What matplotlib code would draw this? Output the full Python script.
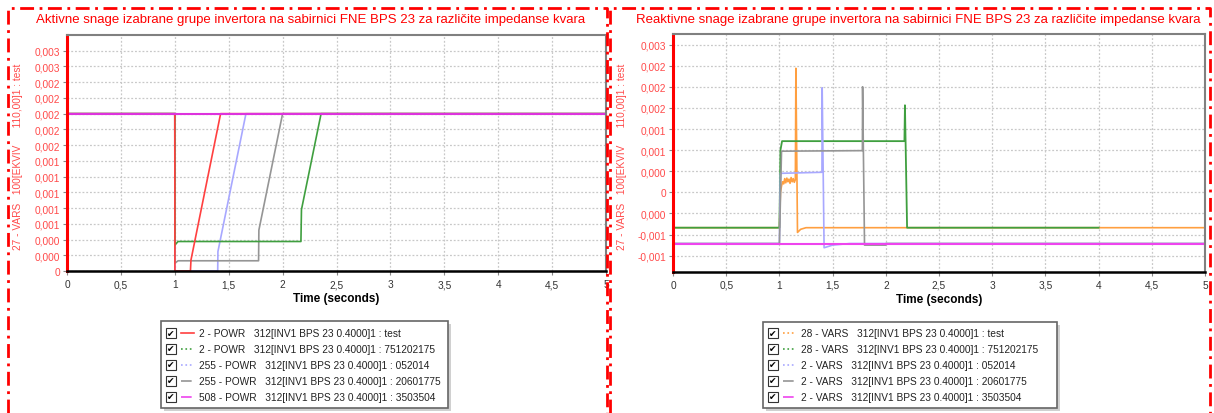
import matplotlib
matplotlib.use("Agg")
import matplotlib.pyplot as plt
from matplotlib.patches import Rectangle
from matplotlib.lines import Line2D

plt.rcParams['font.family'] = ['Liberation Sans', 'DejaVu Sans']

# ---- data: active power (POWR) ----
t_p_test = [0, 1.0, 1.001, 1.145, 1.15, 1.425, 5]
p_test = [0.002, 0.002, 0.0, 0.0, 0.00014, 0.002, 0.002]
t_p_751 = [0, 1.0, 1.001, 1.03, 2.17, 2.175, 2.357, 5]
p_751 = [0.002, 0.002, 0.00033, 0.000375, 0.000375, 0.00078, 0.002, 0.002]
t_p_052 = [0, 1.0, 1.001, 1.398, 1.40, 1.66, 5]
p_052 = [0.002, 0.002, 0.0, 0.0, 0.000247, 0.002, 0.002]
t_p_206 = [0, 1.0, 1.001, 1.03, 1.777, 1.78, 2.0, 5]
p_206 = [0.002, 0.002, 0.0001, 0.00013, 0.00013, 0.00052, 0.002, 0.002]
t_p_350 = [0, 5]
p_350 = [0.002, 0.002]

# ---- data: reactive power (VARS) ----
t_q_test = [0, 1.0, 1.01, 1.02, 1.03, 1.04, 1.05, 1.06, 1.07, 1.08, 1.09, 1.10,
            1.11, 1.12, 1.13, 1.14, 1.15, 1.155, 1.17, 1.2, 1.25, 5]
q_test = [-0.00067, -0.00067, 0.0, 0.00012, 0.0002, 0.00016, 0.00026, 0.00018,
          0.00027, 0.0002, 0.00025, 0.00017, 0.00028, 0.0002, 0.00026, 0.00019,
          0.00024, 0.00235, -0.00076, -0.0007, -0.00067, -0.00067]
t_q_751 = [0, 1.0, 1.01, 1.025, 2.175, 2.18, 2.2, 4.0]
q_751 = [-0.00067, -0.00067, 0.0008, 0.00097, 0.00097, 0.00165, -0.00067, -0.00067]
t_q_052 = [0, 1.0, 1.01, 1.40, 1.402, 1.42, 1.5, 1.66, 5]
q_052 = [-0.00097, -0.00097, 0.00036, 0.00038, 0.00198, -0.00105, -0.001, -0.00097, -0.00097]
t_q_206 = [0, 1.0, 1.02, 1.78, 1.782, 1.80, 2.0, 2.001, 5]
q_206 = [-0.00097, -0.00097, 0.00078, 0.00079, 0.002, -0.001, -0.001, -0.00097, -0.00097]
t_q_350 = [0, 5]
q_350 = [-0.00097, -0.00097]

# ---- ticks / labels ----
x_ticks = [0, 0.5, 1, 1.5, 2, 2.5, 3, 3.5, 4, 4.5, 5]
x_tick_labels = ["0", "0,5", "1", "1,5", "2", "2,5", "3", "3,5", "4", "4,5", "5"]
p_ticks = [0, 0.0002, 0.0004, 0.0006, 0.0008, 0.001, 0.0012, 0.0014,
           0.0016, 0.0018, 0.002, 0.0022, 0.0024, 0.0026, 0.0028]
p_tick_labels = ["0", "0,000", "0,000", "0,001", "0,001", "0,001", "0,001", "0,001",
                 "0,002", "0,002", "0,002", "0,002", "0,002", "0,003", "0,003"]
q_ticks = [-0.0012, -0.0008, -0.0004, 0, 0.0004, 0.0008, 0.0012, 0.0016,
           0.002, 0.0024, 0.0028]
q_tick_labels = ["-0,001", "-0,001", "0,000", "0", "0,000", "0,001", "0,001",
                 "0,002", "0,002", "0,002", "0,003"]

title_p = "Aktivne snage izabrane grupe invertora na sabirnici FNE BPS 23 za različite impedanse kvara"
title_q = "Reaktivne snage izabrane grupe invertora na sabirnici FNE BPS 23 za različite impedanse kvara"
y_label = "27 - VARS   100[EKVIV      110,00]1 : test"

labels_p = ["2 - POWR   312[INV1 BPS 23 0.4000]1 : test",
            "2 - POWR   312[INV1 BPS 23 0.4000]1 : 751202175",
            "255 - POWR   312[INV1 BPS 23 0.4000]1 : 052014",
            "255 - POWR   312[INV1 BPS 23 0.4000]1 : 20601775",
            "508 - POWR   312[INV1 BPS 23 0.4000]1 : 3503504"]
labels_q = ["28 - VARS   312[INV1 BPS 23 0.4000]1 : test",
            "28 - VARS   312[INV1 BPS 23 0.4000]1 : 751202175",
            "2 - VARS   312[INV1 BPS 23 0.4000]1 : 052014",
            "2 - VARS   312[INV1 BPS 23 0.4000]1 : 20601775",
            "2 - VARS   312[INV1 BPS 23 0.4000]1 : 3503504"]

W, H = 1214, 414


def fx(x):
    return x / W


def fy(y):
    return 1 - y / H


fig = plt.figure(figsize=(W / 100, H / 100), dpi=100)

ax1 = fig.add_axes([fx(67), fy(272), fx(606) - fx(67), fy(36) - fy(272)])
ax2 = fig.add_axes([fx(673), fy(272.5), fx(1205) - fx(673), fy(35) - fy(272.5)])


def style_axes(ax, yticks, ylabels, ylim):
    ax.set_xlim(0, 5)
    ax.set_ylim(*ylim)
    ax.set_xticks(x_ticks)
    ax.set_xticklabels(x_tick_labels)
    ax.set_yticks(yticks)
    ax.set_yticklabels(ylabels)
    ax.tick_params(axis='y', labelsize=7.3, labelcolor='#ff4a4a', length=3, color='#888888', pad=2)
    ax.tick_params(axis='x', labelsize=7.3, labelcolor='#333333', length=3, color='#888888', pad=3)
    ax.grid(True, linestyle=(0, (1.5, 1.5)), color='#c8c8c8', linewidth=0.9)
    ax.set_axisbelow(True)
    ax.spines['left'].set_color('red')
    ax.spines['left'].set_linewidth(2.2)
    ax.spines['bottom'].set_color('black')
    ax.spines['bottom'].set_linewidth(1.8)
    for s in ['top', 'right']:
        ax.spines[s].set_color('#808080')
        ax.spines[s].set_linewidth(1.5)
    ax.set_xlabel("Time (seconds)", fontsize=8.5, fontweight='bold', labelpad=2)


# active power
ax1.plot(t_p_052, p_052, color='#a8a8ff', lw=1.2)
ax1.plot(t_p_206, p_206, color='#959595', lw=1.2)
ax1.plot(t_p_751, p_751, color='#3f9f3f', lw=1.2)
ax1.plot(t_p_test, p_test, color='#ff4040', lw=1.2)
ax1.plot(t_p_350, p_350, color='#dd33dd', lw=1.5)
style_axes(ax1, p_ticks, p_tick_labels, (0, 0.003))

# reactive power
ax2.plot(t_q_test, q_test, color='#ff9f40', lw=1.2)
ax2.plot(t_q_751, q_751, color='#3f9f3f', lw=1.3)
ax2.plot(t_q_052, q_052, color='#a8a8ff', lw=1.2)
ax2.plot(t_q_206, q_206, color='#959595', lw=1.2)
ax2.plot(t_q_350, q_350, color='#ee44ee', lw=1.5)
style_axes(ax2, q_ticks, q_tick_labels, (-0.0015, 0.003))

# titles and y labels
fig.text(fx(311), fy(20), title_p, color='red', fontsize=9.55, ha='center', va='center')
fig.text(fx(636), fy(20), title_q, color='red', fontsize=9.55, ha='left', va='center')
fig.text(fx(18), fy(157), y_label, color='#ff4a4a', fontsize=7.3, rotation=90, ha='center', va='center')
fig.text(fx(622), fy(157), y_label, color='#ff4a4a', fontsize=7.3, rotation=90, ha='center', va='center')

# dash-dot red panel borders
for x0, x1 in [(8, 607), (610, 1210)]:
    xs = [fx(x0), fx(x0), fx(x1), fx(x1)]
    ys = [0, fy(9), fy(9), 0]
    fig.add_artist(Line2D(xs, ys, color='red', lw=2, linestyle=(0, (5, 2, 1, 2))))


# legends (checkbox + line sample + text)
def draw_legend(box, rows, styles, labels, colors):
    x0, y0, x1, y1 = box
    fig.add_artist(Rectangle((fx(x0 + 3), fy(y1 + 3)), fx(x1 - x0), fy(y0) - fy(y1),
                             facecolor='#d0d0d0', edgecolor='none'))
    fig.add_artist(Rectangle((fx(x0), fy(y1)), fx(x1 - x0), fy(y0) - fy(y1),
                             facecolor='white', edgecolor='#666666', lw=1.2))
    cx = x0 + 5
    for yy, ls, lab, col in zip(rows, styles, labels, colors):
        fig.add_artist(Rectangle((fx(cx), fy(yy + 5)), fx(10), fy(yy - 5) - fy(yy + 5),
                                 facecolor='white', edgecolor='#333333', lw=0.8))
        fig.text(fx(cx + 5), fy(yy), "✔", fontsize=6.5, ha='center', va='center',
                 family=['DejaVu Sans'])
        fig.add_artist(Line2D([fx(cx + 15), fx(cx + 28)], [fy(yy), fy(yy)],
                              color=col, lw=1.2, linestyle=ls))
        fig.text(fx(cx + 33), fy(yy), lab, fontsize=7.3, color='#222222', va='center')


rows = [334, 350, 366, 382, 398]
draw_legend((161, 322, 448, 409), rows,
            ['-', ':', ':', '-.', '-.'], labels_p,
            ['#ff4040', '#3f9f3f', '#a8a8ff', '#959595', '#ee44ee'])
draw_legend((763, 323, 1057, 409), rows,
            [':', ':', ':', '-.', '-.'], labels_q,
            ['#ff9f40', '#3f9f3f', '#a8a8ff', '#959595', '#ee44ee'])

fig.savefig("out.png", dpi=100, facecolor='white')
